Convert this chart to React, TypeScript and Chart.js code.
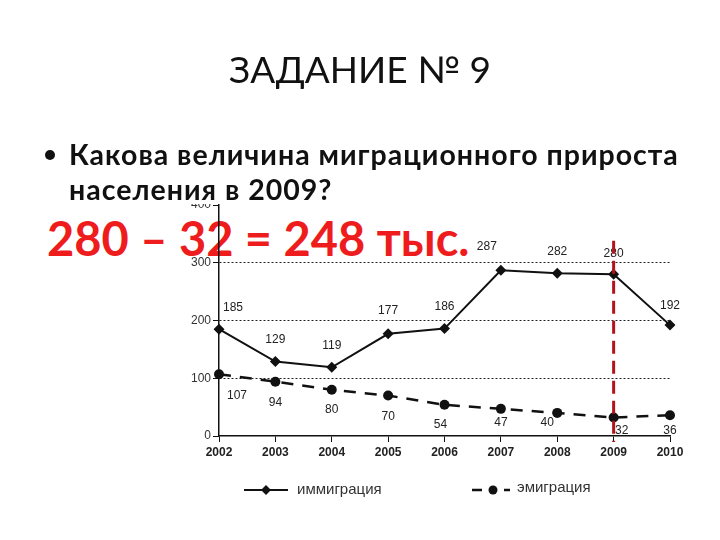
import React, { useEffect, useRef } from "react";
import { Chart, registerables } from "chart.js";

Chart.register(...registerables);

// ---- data ----
const years = ["2002", "2003", "2004", "2005", "2006", "2007", "2008", "2009", "2010"];
const immigration = [185, 129, 119, 177, 186, 287, 282, 280, 192];
const emigration = [107, 94, 80, 70, 54, 47, 40, 32, 36];
const yTickValues = [0, 100, 200, 300, 400];
const seriesNames = ["иммиграция", "эмиграция"];
const highlightYear = "2009";

const titleText = "ЗАДАНИЕ № 9";
const questionLine1 = "Какова величина миграционного прироста";
const questionLine2 = "населения в 2009?";
const answerText = "280 – 32 = 248 тыс.";

// label offsets (style only)
const immLabelDx = [14, 0, 0, 0, 0, -14, 0, 0, 0];
const immLabelDy = [-21, -22, -22, -23, -22, -24, -21, -21, -19];
const emiLabelDx = [18, 0, 0, 0, -4, 0, -10, 8, 0];
const emiLabelDy = [21, 21, 20, 21, 20, 14, 10, 13, 15];

const valueLabels = {
  id: "valueLabels",
  afterDatasetsDraw(chart: any) {
    const ctx = chart.ctx;
    ctx.save();
    ctx.font = "12px 'Liberation Sans', Arial, sans-serif";
    ctx.fillStyle = "#222";
    ctx.textAlign = "center";
    ctx.textBaseline = "middle";
    chart.data.datasets.forEach((ds: any, di: number) => {
      const meta = chart.getDatasetMeta(di);
      const dx = di === 0 ? immLabelDx : emiLabelDx;
      const dy = di === 0 ? immLabelDy : emiLabelDy;
      meta.data.forEach((pt: any, i: number) => {
        ctx.fillText(String(ds.data[i]), pt.x + dx[i], pt.y + dy[i]);
      });
    });
    ctx.restore();
  },
};

const highlightLine = {
  id: "highlightLine",
  afterDraw(chart: any) {
    const ctx = chart.ctx;
    const xs = chart.scales.x;
    const ys = chart.scales.y;
    const x = xs.getPixelForValue(years.indexOf(highlightYear));
    ctx.save();
    ctx.strokeStyle = "#b3141c";
    ctx.lineWidth = 3;
    ctx.setLineDash([13, 7]);
    ctx.beginPath();
    ctx.moveTo(x, ys.getPixelForValue(338));
    ctx.lineTo(x, ys.bottom + 6);
    ctx.stroke();
    ctx.restore();
  },
};

const legendPlugin = {
  id: "customLegend",
  afterDraw(chart: any) {
    const ctx = chart.ctx;
    const y = 490;
    ctx.save();
    ctx.strokeStyle = "#111";
    ctx.lineWidth = 2;
    ctx.beginPath();
    ctx.moveTo(244, y);
    ctx.lineTo(288, y);
    ctx.stroke();
    ctx.fillStyle = "#111";
    ctx.beginPath();
    ctx.moveTo(266, y - 5);
    ctx.lineTo(271, y);
    ctx.lineTo(266, y + 5);
    ctx.lineTo(261, y);
    ctx.closePath();
    ctx.fill();
    ctx.lineWidth = 2.5;
    ctx.beginPath();
    ctx.moveTo(472, y);
    ctx.lineTo(482, y);
    ctx.moveTo(504, y);
    ctx.lineTo(510, y);
    ctx.stroke();
    ctx.beginPath();
    ctx.arc(493, y, 4.5, 0, Math.PI * 2);
    ctx.fill();
    ctx.font = "15px 'Liberation Sans', Arial, sans-serif";
    ctx.fillStyle = "#333";
    ctx.textBaseline = "middle";
    ctx.textAlign = "left";
    ctx.fillText(seriesNames[0], 297, y);
    ctx.fillText(seriesNames[1], 517, y - 2);
    ctx.restore();
  },
};

export default function App() {
  const canvasRef = useRef<HTMLCanvasElement | null>(null);

  useEffect(() => {
    if (!canvasRef.current) return;
    const chart = new Chart(canvasRef.current, {
      type: "line",
      data: {
        labels: years,
        datasets: [
          {
            label: seriesNames[0],
            data: immigration,
            borderColor: "#111",
            backgroundColor: "#111",
            borderWidth: 2,
            pointStyle: "rectRot",
            pointRadius: 5.5,
            pointBackgroundColor: "#111",
            pointBorderWidth: 0,
            tension: 0,
          },
          {
            label: seriesNames[1],
            data: emigration,
            borderColor: "#111",
            backgroundColor: "#111",
            borderWidth: 2.5,
            borderDash: [12, 9],
            pointStyle: "circle",
            pointRadius: 5,
            pointBackgroundColor: "#111",
            pointBorderWidth: 0,
            tension: 0,
          },
        ],
      },
      options: {
        responsive: false,
        animation: false,
        devicePixelRatio: 1,
        layout: { padding: { top: 205, right: 50, left: 0, bottom: 0 } },
        plugins: {
          legend: { display: false },
          tooltip: { enabled: false },
          title: { display: false },
        },
        scales: {
          x: {
            type: "category",
            offset: false,
            grid: {
              display: true,
              drawOnChartArea: false,
              drawTicks: true,
              tickLength: 6,
              tickColor: "#111",
              tickWidth: 1,
            },
            border: { display: true, color: "#111", width: 1.5 },
            ticks: {
              padding: 3,
              color: "#222",
              font: { family: "'Liberation Sans Narrow', 'Liberation Sans', Arial, sans-serif", size: 12, weight: "bold" },
              maxRotation: 0,
              autoSkip: false,
            },
            afterFit(scale: any) {
              scale.height = 104;
            },
          },
          y: {
            min: 0,
            max: 400,
            afterBuildTicks(scale: any) {
              scale.ticks = yTickValues.map((v) => ({ value: v }));
            },
            grid: {
              display: true,
              drawOnChartArea: true,
              drawTicks: true,
              tickLength: 6,
              tickColor: "#111",
              color: (c: any) => {
                const v = c.tick ? c.tick.value : -1;
                return v > 0 && v < 400 ? "#222" : "rgba(0,0,0,0)";
              },
              lineWidth: 1,
            },
            border: { display: true, color: "#111", width: 1.5, dash: [2, 2] },
            ticks: {
              padding: 2,
              color: "#333",
              font: { family: "'Liberation Sans', Arial, sans-serif", size: 12 },
            },
            afterFit(scale: any) {
              scale.width = 219;
            },
          },
        },
      },
      plugins: [valueLabels, highlightLine, legendPlugin],
    } as any);
    return () => chart.destroy();
  }, []);

  return (
    <div
      style={{
        position: "absolute",
        left: 0,
        top: 0,
        width: 720,
        height: 540,
        background: "#fff",
        overflow: "hidden",
        fontFamily: "Lato, 'Open Sans', sans-serif",
      }}
    >
      <div
        style={{
          position: "absolute",
          left: 0,
          top: 50,
          width: 720,
          textAlign: "center",
          fontSize: 37,
          lineHeight: "37px",
          color: "#111",
          zIndex: 3,
        }}
      >
        {titleText}
      </div>
      <div
        style={{
          position: "absolute",
          left: 47,
          top: 215,
          fontSize: 47,
          lineHeight: "47px",
          fontWeight: 700,
          color: "#ee1c1c",
          whiteSpace: "nowrap",
          zIndex: 1,
        }}
      >
        {answerText}
      </div>
      <canvas
        ref={canvasRef}
        width={720}
        height={540}
        style={{ position: "absolute", left: 0, top: 0, width: 720, height: 540, zIndex: 2 }}
      />
      <div
        style={{
          position: "absolute",
          left: 30,
          top: 130,
          width: 670,
          height: 74,
          background: "#fff",
          zIndex: 3,
        }}
      >
        <div
          style={{
            position: "absolute",
            left: 15,
            top: 20,
            width: 10,
            height: 10,
            borderRadius: 5,
            background: "#111",
          }}
        />
        <div
          style={{
            position: "absolute",
            left: 39,
            top: 7,
            fontSize: 28.5,
            lineHeight: "35px",
            letterSpacing: "1px",
            fontWeight: 700,
            color: "#111",
            whiteSpace: "nowrap",
          }}
        >
          {questionLine1}
          <br />
          {questionLine2}
        </div>
      </div>
    </div>
  );
}
